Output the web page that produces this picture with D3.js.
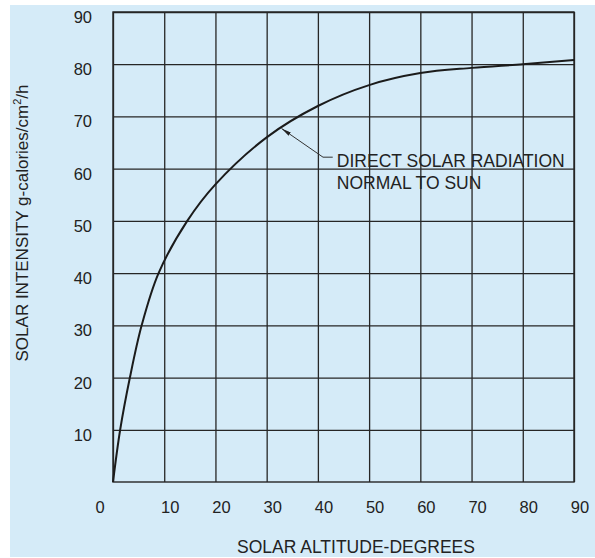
<!DOCTYPE html>
<html lang="en">
<head>
<meta charset="UTF-8">
<title>Solar intensity</title>
<script src="https://cdn.jsdelivr.net/npm/d3@7/dist/d3.min.js"></script>
<style>
  body { margin: 0; background: #fff; }
  svg { display: block; font-family: "Liberation Sans", Arial, Helvetica, sans-serif; }
  .grid line { stroke: #262626; stroke-width: 1.3; }
  .grid path { display: none; }
  .frame { fill: none; stroke: #262626; stroke-width: 1.4; }
  .tick-label { font-size: 16.5px; fill: #222; }
  .title { font-size: 17.5px; fill: #222; }
  .curve { fill: none; stroke: #1b1b1b; stroke-width: 2; }
  .leader { fill: none; stroke: #333; stroke-width: 1; }
</style>
</head>
<body>
<div class="chart"></div>
<script>
var altitude  = [0, 1.4, 3.3, 5.6, 8.9, 14.5, 20, 30, 40, 50, 60, 70, 80, 90];
var intensity = [0, 10, 20, 30, 40, 50, 57, 66, 72, 76, 78.3, 79.3, 80.0, 80.8];
var xTicks = [0, 10, 20, 30, 40, 50, 60, 70, 80, 90];
var yTicks = [10, 20, 30, 40, 50, 60, 70, 80, 90];
var noteLines = ["DIRECT SOLAR RADIATION", "NORMAL TO SUN"];

var W = 595, H = 558;
var margin = { top: 12, right: 21, bottom: 76, left: 113 };

var svg = d3.select(".chart").append("svg")
    .attr("width", W)
    .attr("height", H);

svg.append("rect")
    .attr("x", 10).attr("y", 5)
    .attr("width", W - 10).attr("height", H - 6)
    .attr("fill", "#d5ebf8");

var x = d3.scaleLinear().domain([0, 90]).range([margin.left, W - margin.right]);
var y = d3.scaleLinear().domain([0, 90]).range([H - margin.bottom, margin.top]);

// grid
svg.append("g")
    .attr("class", "grid")
    .attr("transform", "translate(0," + y(0) + ")")
    .call(d3.axisBottom(x).tickValues(xTicks).tickSize(-(y(0) - y(90))).tickFormat(""));

svg.append("g")
    .attr("class", "grid")
    .attr("transform", "translate(" + x(0) + ",0)")
    .call(d3.axisLeft(y).tickValues(yTicks).tickSize(-(x(90) - x(0))).tickFormat(""));

svg.append("rect")
    .attr("class", "frame")
    .attr("x", x(0)).attr("y", y(90))
    .attr("width", x(90) - x(0)).attr("height", y(0) - y(90));

// tick labels
svg.selectAll("text.xl").data(xTicks).enter().append("text")
    .attr("class", "tick-label xl")
    .attr("x", function(d) { return x(d) + (d === 0 ? -13 : 6); })
    .attr("y", y(0) + 31)
    .attr("text-anchor", "middle")
    .text(function(d) { return d; });

svg.selectAll("text.yl").data(yTicks).enter().append("text")
    .attr("class", "tick-label yl")
    .attr("x", x(0) - 21)
    .attr("y", function(d) { return y(d) + 11; })
    .attr("text-anchor", "end")
    .text(function(d) { return d; });

// axis titles
svg.append("text")
    .attr("class", "title")
    .attr("x", 356).attr("y", 553)
    .attr("text-anchor", "middle")
    .text("SOLAR ALTITUDE-DEGREES");

var yt = svg.append("text")
    .attr("class", "title")
    .attr("transform", "translate(28,223) rotate(-90)")
    .attr("text-anchor", "middle")
    .style("font-size", "17px");
yt.append("tspan").text("SOLAR INTENSITY g-calories/cm");
yt.append("tspan").attr("dy", -7).attr("font-size", "11px").text("2");
yt.append("tspan").attr("dy", 7).text("/h");

// curve
var pts = altitude.map(function(a, i) { return [a, intensity[i]]; });
var line = d3.line()
    .x(function(d) { return x(d[0]); })
    .y(function(d) { return y(d[1]); })
    .curve(d3.curveCatmullRom.alpha(0.5));

svg.append("path")
    .datum(pts)
    .attr("class", "curve")
    .attr("d", line);

// annotation
svg.append("defs").append("marker")
    .attr("id", "arrow")
    .attr("viewBox", "0 0 10 4")
    .attr("refX", 10).attr("refY", 2)
    .attr("markerWidth", 10).attr("markerHeight", 4)
    .attr("markerUnits", "userSpaceOnUse")
    .attr("orient", "auto")
    .append("path")
    .attr("d", "M0,0L10,2L0,4Z")
    .attr("fill", "#222");

var leader = [[42.9, 62.2], [41, 62.2], [32.9, 67.7]];
svg.append("path")
    .datum(leader)
    .attr("class", "leader")
    .attr("marker-end", "url(#arrow)")
    .attr("d", d3.line().x(function(d) { return x(d[0]); }).y(function(d) { return y(d[1]); }));

svg.selectAll("text.note").data(noteLines).enter().append("text")
    .attr("class", "title note")
    .attr("x", x(43.7))
    .attr("y", function(d, i) { return y(60.4) + i * 22; })
    .text(function(d) { return d; });
</script>
</body>
</html>
